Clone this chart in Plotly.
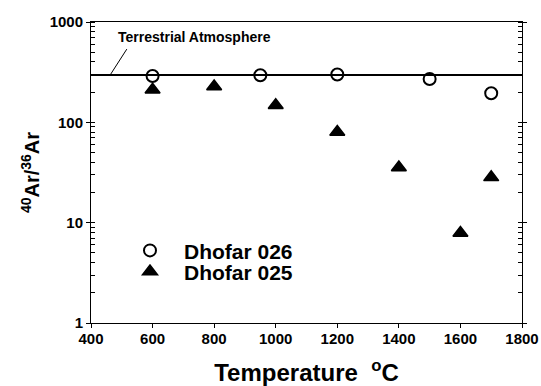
import plotly.graph_objects as go
import math

# Data
temps_026 = [600, 950, 1200, 1500, 1700]
ratio_026 = [290, 295, 300, 270, 195]
temps_025 = [600, 800, 1000, 1200, 1400, 1600, 1700]
ratio_025 = [211, 228, 148, 80, 35.5, 7.9, 28.3]
atm_x = [400, 1800]
atm_y = [295.5, 295.5]
x_ticks = [400, 600, 800, 1000, 1200, 1400, 1600, 1800]
y_ticks = [1, 10, 100, 1000]

FONT = "Arial, Liberation Sans, sans-serif"

fig = go.Figure()
fig.add_trace(go.Scatter(
    x=atm_x, y=atm_y, mode="lines", line=dict(color="black", width=2),
    showlegend=False, hoverinfo="skip"))
fig.add_trace(go.Scatter(
    x=temps_026, y=ratio_026, mode="markers", name="Dhofar 026",
    marker=dict(symbol="circle-open", size=12, color="black",
                line=dict(color="black", width=2)),
    legend="legend"))
fig.add_trace(go.Scatter(
    x=temps_025, y=ratio_025, mode="markers", name="Dhofar 025",
    marker=dict(symbol="triangle-up", size=13, color="black",
                line=dict(color="black", width=1.5)),
    legend="legend2"))

leg_common = dict(font=dict(family=FONT, size=21, color="black", weight="bold"),
                  bgcolor="rgba(0,0,0,0)", borderwidth=0, itemwidth=58,
                  xanchor="left", yanchor="middle", tracegroupgap=0)
fig.update_layout(
    width=541, height=386,
    margin=dict(l=91, r=19, t=22, b=63, autoexpand=False),
    plot_bgcolor="white", paper_bgcolor="white",
    font=dict(family=FONT, color="black"),
    legend=dict(x=0.058, y=0.24, **leg_common),
    legend2=dict(x=0.058, y=0.17, **leg_common),
    xaxis=dict(
        range=[400, 1800], tickvals=x_ticks, ticks="outside", ticklen=4,
        tickwidth=1, tickcolor="black", showline=True, linecolor="black",
        linewidth=1, mirror=True, showgrid=False, zeroline=False,
        automargin=False, ticklabelstandoff=-2,
        tickfont=dict(family=FONT, size=15, weight="bold", color="black"),
        title=dict(text="Temperature\u00a0\u00a0<sup>o</sup>C",
                   font=dict(family=FONT, size=24, weight="bold", color="black"),
                   standoff=24),
    ),
    yaxis=dict(
        type="log", range=[0, 3], tickvals=y_ticks, ticktext=[str(v) for v in y_ticks],
        ticks="outside", ticklen=4, tickwidth=1, tickcolor="black",
        showline=True, linecolor="black", linewidth=1, mirror="ticks",
        showgrid=False, zeroline=False, automargin=False,
        minor=dict(ticks="inside", ticklen=4, tickwidth=1, tickcolor="black",
                   dtick="D1", showgrid=False),
        tickfont=dict(family=FONT, size=15, weight="bold", color="black"),
        title=dict(text="<sup>40</sup>Ar/<sup>36</sup>Ar",
                   font=dict(family=FONT, size=20, weight="bold", color="black"),
                   standoff=4),
    ),
    annotations=[
        dict(x=(116 - 91) / 431, y=(323 - 37.5) / 301, xref="paper", yref="paper",
             text="Terrestrial Atmosphere", showarrow=False, xanchor="left",
             yanchor="middle",
             font=dict(family=FONT, size=14, weight="bold", color="black")),
        dict(x=462, y=math.log10(atm_y[0]), xref="x", yref="y", text=" ",
             showarrow=True, arrowhead=0, arrowwidth=1, arrowcolor="black",
             axref="pixel", ayref="pixel", ax=18, ay=-28, standoff=0,
             startstandoff=0, font=dict(size=1)),
    ],
)

fig.write_html("out.html")
